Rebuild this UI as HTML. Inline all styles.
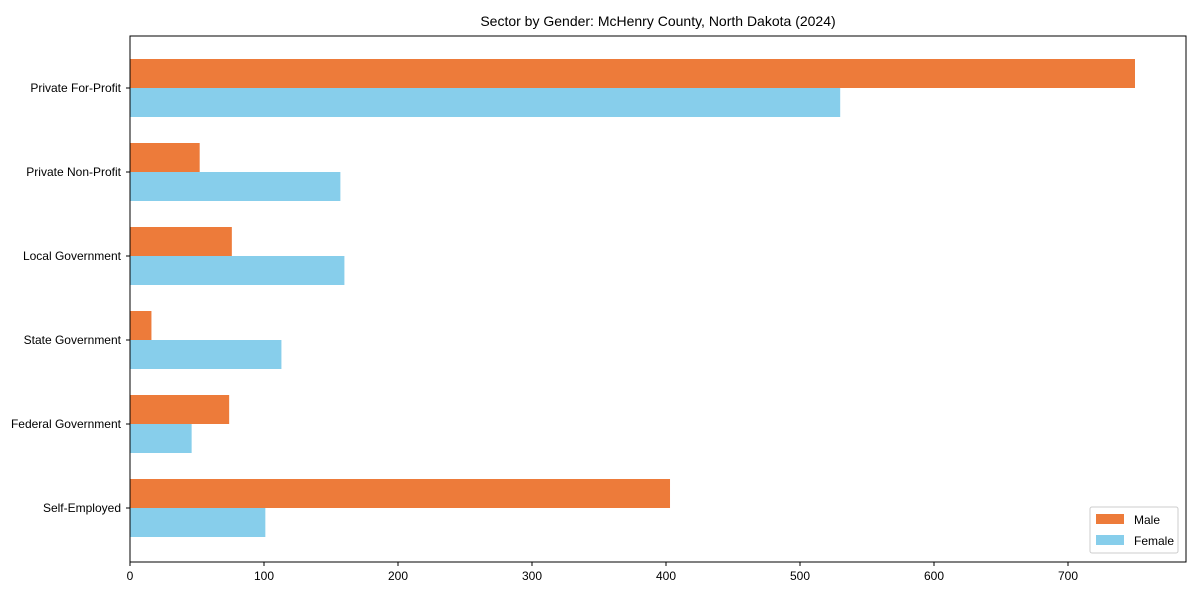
<!DOCTYPE html>
<html><head><meta charset="utf-8"><style>
body{margin:0;background:#fff;font-family:"Liberation Sans",Arial,sans-serif;}
svg text{font-family:"Liberation Sans",Arial,sans-serif;fill:#000;}
</style></head><body>
<svg id="chart" width="1200" height="600" viewBox="0 0 1200 600">
<rect width="1200" height="600" fill="#fff"/>
<text x="658" y="26" text-anchor="middle" font-size="14">Sector by Gender: McHenry County, North Dakota (2024)</text>
<g id="bars"></g>
<g id="axes"></g>
<g>
<rect x="1090" y="507" width="88" height="46" fill="#fff" stroke="#ccc" rx="2"/>
<rect x="1096" y="514" width="28" height="10" fill="#ED7B3A"/>
<text x="1134" y="524" font-size="12">Male</text>
<rect x="1096" y="535" width="28" height="10" fill="#87CEEB"/>
<text x="1134" y="545" font-size="12">Female</text>
</g>
</svg>
<script>
const categories=["Private For-Profit","Private Non-Profit","Local Government","State Government","Federal Government","Self-Employed"];
const maleValues=[750,52,76,16,74,403];
const femaleValues=[530,157,160,113,46,101];
const xTicks=[0,100,200,300,400,500,600,700];
const L=130,R=1186,T=36,B=562,pxPer=1.34,step=84,first=88,bh=29;
const xs=v=>L+v*pxPer;
const ys=i=>first+i*step;
const NS="http://www.w3.org/2000/svg";
const bars=document.getElementById('bars'),axes=document.getElementById('axes');
function mk(tag,attrs,parent){const e=document.createElementNS(NS,tag);for(const k in attrs)e.setAttribute(k,attrs[k]);parent.appendChild(e);return e;}
categories.forEach((c,i)=>{
  const m=mk('rect',{x:L,y:ys(i)-bh,width:xs(maleValues[i])-L,height:bh,fill:'#ED7B3A'},bars);
  
  
  const f=mk('rect',{x:L,y:ys(i),width:xs(femaleValues[i])-L,height:bh,fill:'#87CEEB'},bars);
  
  
  const t=mk('text',{x:L-9,y:ys(i)+4,'text-anchor':'end','font-size':12},axes);
  t.textContent=c;
  
  
  mk('line',{x1:L-4,x2:L,y1:ys(i),y2:ys(i),stroke:'#000'},axes);
});
xTicks.forEach(v=>{
  mk('line',{x1:xs(v),x2:xs(v),y1:B,y2:B+4,stroke:'#000'},axes);
  const t=mk('text',{x:xs(v),y:B+18,'text-anchor':'middle','font-size':12},axes);
  t.textContent=v;
  
  
});
const fr=mk('rect',{x:L,y:T,width:R-L,height:B-T,fill:'none',stroke:'#000','stroke-width':1},axes);


</script>
</body></html>
